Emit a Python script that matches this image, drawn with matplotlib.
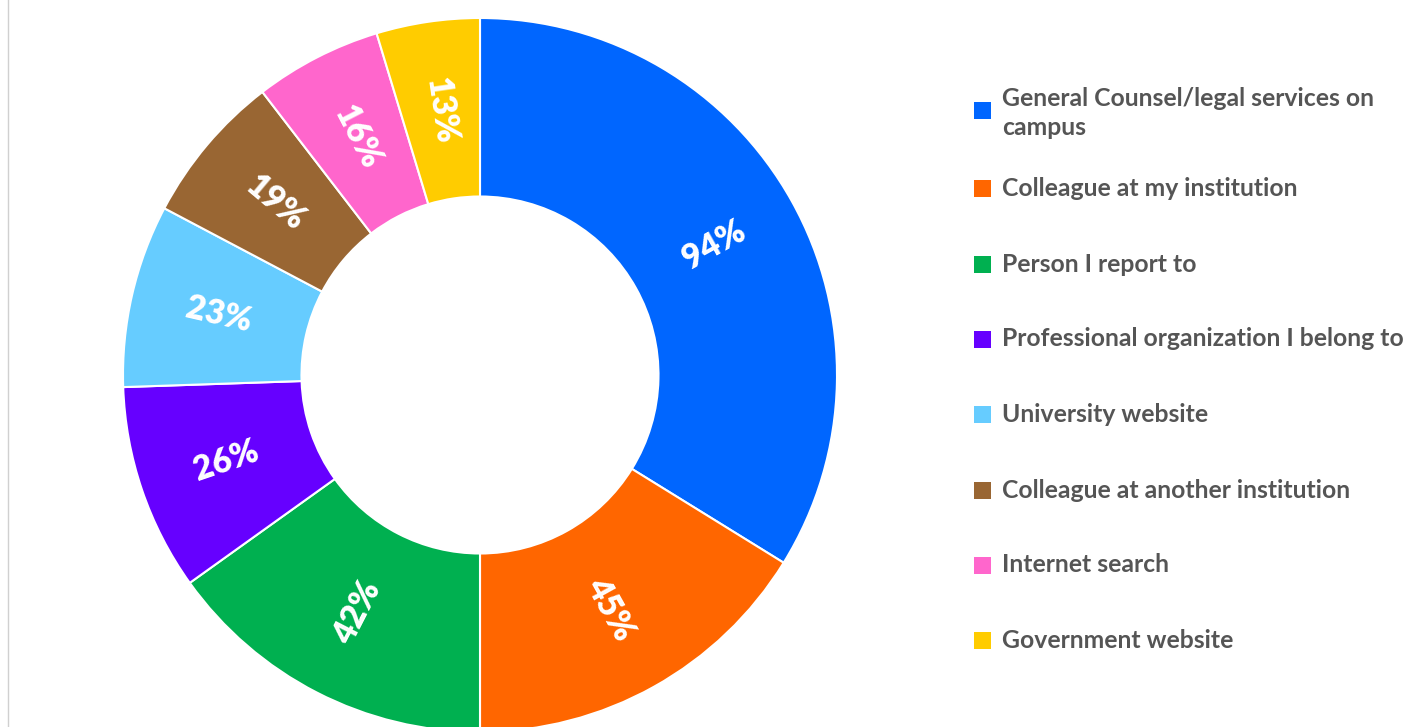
import matplotlib
matplotlib.use("Agg")
import matplotlib.pyplot as plt
from matplotlib.patches import Rectangle
import numpy as np

categories = [
    "General Counsel/legal services on\ncampus",
    "Colleague at my institution",
    "Person I report to",
    "Professional organization I belong to",
    "University website",
    "Colleague at another institution",
    "Internet search",
    "Government website",
]
values = [94, 45, 42, 26, 23, 19, 16, 13]
colors = ["#0066FF", "#FF6600", "#00B050", "#6600FF",
          "#66CCFF", "#996633", "#FF66CC", "#FFCC00"]

plt.rcParams['font.family'] = ['Lato', 'DejaVu Sans']

W, H = 1421, 727
fig = plt.figure(figsize=(W / 100, H / 100), dpi=100)

cx, cy, R = 480, 375, 357
ax = fig.add_axes([(cx - R) / W, (H - cy - R) / H, 2 * R / W, 2 * R / H])

wedges, _ = ax.pie(values, colors=colors, startangle=90, counterclock=False,
                   radius=1.0,
                   wedgeprops=dict(width=0.5, edgecolor='white', linewidth=1.5))
ax.set_xlim(-1, 1)
ax.set_ylim(-1, 1)
ax.set_aspect('equal')
ax.axis('off')

for w, v in zip(wedges, values):
    mid = (w.theta1 + w.theta2) / 2.0
    r = 0.75
    x = r * np.cos(np.radians(mid))
    y = r * np.sin(np.radians(mid))
    rot = mid
    while rot > 180:
        rot -= 360
    while rot <= -180:
        rot += 360
    if rot > 90:
        rot -= 180
    elif rot < -90:
        rot += 180
    ax.text(x, y, f"{v}%", ha='center', va='center', rotation=rot,
            rotation_mode='anchor', color='white', fontsize=24,
            fontweight='heavy')

# left border line
fig.add_artist(plt.Line2D([8 / W, 8 / W], [0, 1], color='#D0D0D0', lw=1))

# legend
ys = [113, 188, 264, 339, 414, 490, 565, 640]
sq = 17
for lab, col, yc in zip(categories, colors, ys):
    ysq = yc if '\n' not in lab else 110
    fig.add_artist(Rectangle(((982 - sq / 2) / W, (H - ysq - sq / 2) / H),
                             sq / W, sq / H, facecolor=col, edgecolor='none',
                             transform=fig.transFigure))
    fig.text(1002 / W, (H - yc) / H, lab, ha='left', va='center',
             fontsize=17.8, fontweight='bold', color='#555555',
             linespacing=1.3)

fig.savefig("out.png", dpi=100)
